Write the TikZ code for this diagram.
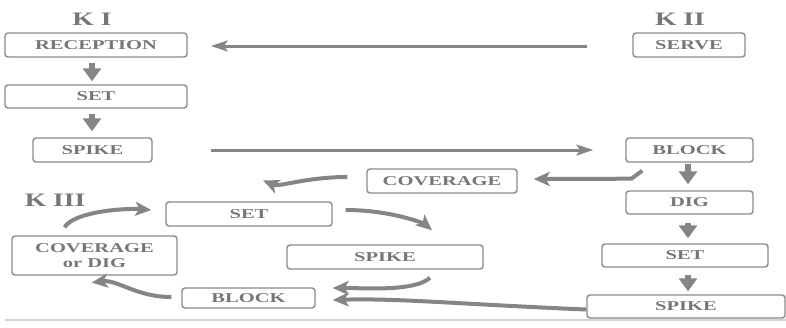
\documentclass[tikz,border=0pt]{standalone}
\usepackage{fontspec}
\setmainfont{Liberation Serif}
\newfontfamily\boxfont{Liberation Serif}[FakeStretch=1.52]
\newfontfamily\labfont{Liberation Serif}[FakeStretch=1.45]
\usetikzlibrary{arrows.meta,calc}
\definecolor{boxgray}{HTML}{8A8A8A}
\definecolor{txtgray}{HTML}{767676}
\definecolor{arrgray}{HTML}{858585}
\definecolor{rulegray}{HTML}{D4D4D4}
\tikzset{
  box/.style={draw=boxgray, line width=1.4pt, rounded corners=3pt, inner sep=0pt,
    text=txtgray, font=\boxfont\fontsize{13.5}{14.5}\selectfont\bfseries, align=center},
  klabel/.style={text=txtgray, font=\labfont\fontsize{19}{22}\selectfont\bfseries, inner sep=0pt},
  longarr/.style={draw=arrgray, line width=3pt, -{Stealth[length=17pt,width=11pt,inset=4pt]}},
  curvarr/.style={draw=arrgray, line width=4pt, -{Stealth[length=16pt,width=14pt,inset=4pt]}},
  downarr/.style={draw=arrgray, line width=6pt, -{Triangle[length=13pt,width=18pt]}, shorten >=0pt},
}
\begin{document}
\begin{tikzpicture}[x=1pt,y=-1pt]
\useasboundingbox (0,0) rectangle (786,327);
% rule
\draw[rulegray, line width=2pt] (5,320) -- (786,320);
% labels
\node[klabel] (k1) at (92,19) {K I};
\node[klabel] (k2) at (680,19) {K II};
\node[klabel] (k3) at (55,200) {K III};
% K I
\node[box, minimum width=182pt, minimum height=24pt] (rec) at (96,45) {RECEPTION};
\node[box, minimum width=182pt, minimum height=23pt] (set1) at (96,96.5) {SET};
\node[box, minimum width=119pt, minimum height=24pt] (spike1) at (92.5,150) {SPIKE};
% K II
\node[box, minimum width=112pt, minimum height=24pt] (serve) at (689,45) {SERVE};
\node[box, minimum width=127pt, minimum height=24pt] (block2) at (689.5,150) {BLOCK};
\node[box, minimum width=127pt, minimum height=23pt] (dig2) at (689.5,202.5) {DIG};
\node[box, minimum width=166pt, minimum height=23pt] (set2) at (685,255.5) {SET};
\node[box, minimum width=198pt, minimum height=23pt] (spike2) at (686,306.5) {SPIKE};
\node[box, minimum width=150pt, minimum height=24pt] (cov2) at (442,181) {COVERAGE};
% K III
\node[box, minimum width=166pt, minimum height=24pt] (set3) at (249,214) {SET};
\node[box, minimum width=165pt, minimum height=39pt] (covdig) at (94.5,255.5) {COVERAGE\\or DIG};
\node[box, minimum width=196pt, minimum height=24pt] (spike3) at (385,257) {SPIKE};
\node[box, minimum width=133pt, minimum height=20pt] (block3) at (248.5,298) {BLOCK};
% long straight arrows
\draw[longarr] ($(serve.west)+(-45,1)$) -- ($(rec.east)+(23,1)$);
\draw[longarr] ($(spike1.east)+(58,0)$) -- ($(block2.west)+(-32,0)$);
% down arrows
\draw[downarr] ($(rec.south)+(-4,5)$) -- ($(set1.north)+(-4,-3)$);
\draw[downarr] ($(set1.south)+(-4,5)$) -- ($(spike1.north)+(-0.5,-6)$);
\draw[downarr] ($(block2.south)+(-1.5,1)$) -- ($(dig2.north)+(-1.5,-6)$);
\draw[downarr] ($(dig2.south)+(-1.5,8)$) -- ($(set2.north)+(3,-5)$);
\draw[downarr] ($(set2.south)+(3,7)$) -- ($(spike2.north)+(2,-3)$);
% curved arrows
\draw[curvarr] ($(block2.south west)+(17,8)$) -- ($(block2.south west)+(6,16)$) -- ($(cov2.east)+(16,-2)$);
\draw[curvarr] ($(cov2.west)+(-19,-4)$) .. controls ($(cov2.west)+(-60,-4)$) and ($(set3.north)+(30,-14)$) .. ($(set3.north)+(14,-21)$);
\draw[curvarr] ($(set3.east)+(13,-4)$) .. controls ($(set3.east)+(60,-4)$) and ($(spike3.north)+(40,-20)$) .. ($(spike3.north)+(47,-14)$);
\draw[curvarr] ($(spike3.south)+(45,8)$) .. controls ($(spike3.south)+(30,22)$) and ($(block3.east)+(50,-10)$) .. ($(block3.east)+(17,-10)$);
\draw[curvarr] ($(spike2.west)+(0,3)$) .. controls ($(spike2.west)+(-120,-2)$) and ($(block3.east)+(80,0)$) .. ($(block3.east)+(17,2)$);
\draw[curvarr] ($(block3.west)+(-10,-1)$) .. controls ($(block3.west)+(-45,-1)$) and ($(covdig.east)+(-60,24)$) .. ($(covdig.east)+(-86,27)$);
\draw[curvarr] ($(covdig.north)+(-30,-8)$) .. controls ($(covdig.north)+(-20,-24)$) and ($(set3.west)+(-40,-6)$) .. ($(set3.west)+(-14,-4)$);
\end{tikzpicture}
\end{document}
